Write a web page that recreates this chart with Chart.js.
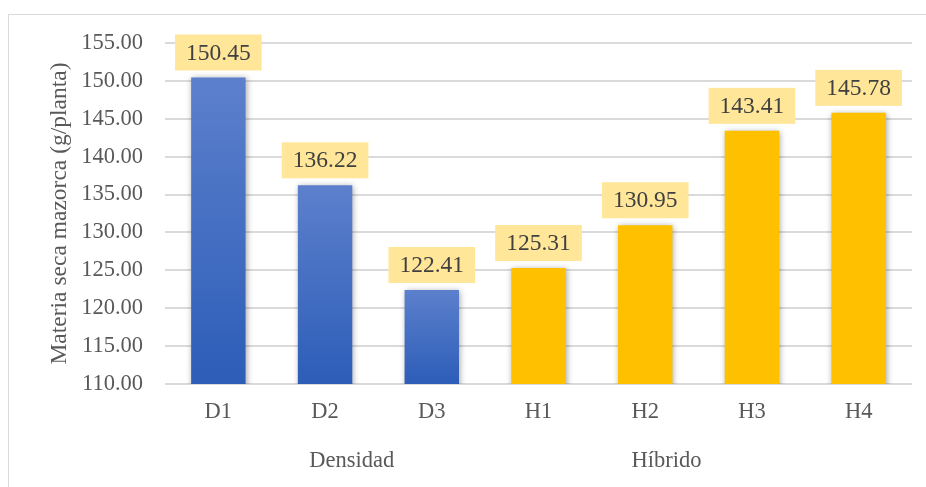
<!DOCTYPE html>
<html>
<head>
<meta charset="utf-8">
<script src="https://cdn.jsdelivr.net/npm/chart.js@4/dist/chart.umd.min.js"></script>
<style>
  html, body { margin: 0; padding: 0; background: #fff; }
  canvas { display: block; }
</style>
</head>
<body>
<canvas id="biomasa" width="926" height="487"></canvas>
<script>
// Datos: materia seca de mazorca por densidad e híbrido
const categorias = ['D1', 'D2', 'D3', 'H1', 'H2', 'H3', 'H4'];
const valores = [150.45, 136.22, 122.41, 125.31, 130.95, 143.41, 145.78];
const grupo = ['D', 'D', 'D', 'H', 'H', 'H', 'H'];
const grupos = ['Densidad', 'Híbrido'];
const ticksY = [110, 115, 120, 125, 130, 135, 140, 145, 150, 155];

const SERIF = "'Liberation Serif', 'Times New Roman', serif";
const DORADO = '#FFC000';

// Posición (en unidades de categoría) de las etiquetas de grupo
const posGrupos = [1.25, 4.2];

// Relleno con degradado para las barras azules
function colorBarra(c) {
    if (grupo[c.dataIndex] === 'H') return DORADO;
    const chart = c.chart;
    const area = chart.chartArea;
    if (!area) return '#4472C4';
    const yTop = chart.scales.y.getPixelForValue(valores[c.dataIndex]);
    const g = chart.ctx.createLinearGradient(0, yTop, 0, area.bottom);
    g.addColorStop(0, 'rgb(92,128,204)');
    g.addColorStop(1, 'rgb(45,93,184)');
    return g;
}

// Marco exterior del gráfico
const marco = {
    id: 'marco',
    beforeDraw(chart) {
        const ctx = chart.ctx;
        ctx.save();
        ctx.fillStyle = '#fff';
        ctx.fillRect(0, 0, chart.width, chart.height);
        ctx.strokeStyle = '#d9d9d9';
        ctx.lineWidth = 1;
        ctx.strokeRect(8.5, 14.5, chart.width + 10, chart.height + 10);
        ctx.restore();
    }
};

// Sombra suave de las barras
const sombra = {
    id: 'sombra',
    beforeDatasetsDraw(chart) {
        const ctx = chart.ctx;
        ctx.save();
        ctx.shadowColor = 'rgba(0,0,0,0.35)';
        ctx.shadowBlur = 6;
        ctx.shadowOffsetX = 1;
        ctx.shadowOffsetY = 1;
    },
    afterDatasetsDraw(chart) {
        chart.ctx.restore();
    }
};

// Etiquetas de valor con fondo amarillo
const etiquetas = {
    id: 'etiquetas',
    afterDatasetsDraw(chart) {
        const ctx = chart.ctx;
        const meta = chart.getDatasetMeta(0);
        ctx.save();
        ctx.font = '23.5px ' + SERIF;
        ctx.textAlign = 'center';
        ctx.textBaseline = 'middle';
        meta.data.forEach((bar, i) => {
            const txt = valores[i].toFixed(2);
            const w = ctx.measureText(txt).width + 22;
            const h = 36;
            const bottom = bar.y - 7;
            ctx.fillStyle = '#FFE699';
            ctx.fillRect(bar.x - w / 2, bottom - h, w, h);
            ctx.fillStyle = '#404040';
            ctx.fillText(txt, bar.x, bottom - h / 2 + 1);
        });
        ctx.restore();
    }
};

// Nombres de grupo bajo las categorías
const nombresGrupo = {
    id: 'nombresGrupo',
    afterDraw(chart) {
        const ctx = chart.ctx;
        const x = chart.scales.x;
        ctx.save();
        ctx.font = '22.5px ' + SERIF;
        ctx.fillStyle = '#595959';
        ctx.textAlign = 'center';
        ctx.textBaseline = 'middle';
        grupos.forEach((nombre, i) => {
            ctx.fillText(nombre, x.getPixelForValue(posGrupos[i]), 461);
        });
        ctx.restore();
    }
};

new Chart(document.getElementById('biomasa'), {
    type: 'bar',
    data: {
        labels: categorias,
        datasets: [{
            data: valores,
            backgroundColor: colorBarra,
            borderWidth: 0,
            barPercentage: 0.51,
            categoryPercentage: 1
        }]
    },
    options: {
        responsive: false,
        animation: false,
        devicePixelRatio: 1,
        layout: { padding: { left: 36, top: 43, right: 14, bottom: 0 } },
        plugins: {
            legend: { display: false },
            tooltip: { enabled: false }
        },
        scales: {
            x: {
                grid: { display: false, drawTicks: false },
                border: { display: false },
                ticks: {
                    color: '#595959',
                    padding: 15,
                    font: { family: SERIF, size: 22.5 }
                },
                afterFit(scale) { scale.height = 103; }
            },
            y: {
                min: 110,
                max: 155,
                afterBuildTicks(scale) {
                    scale.ticks = ticksY.map(v => ({ value: v }));
                },
                grid: { color: '#dadada', lineWidth: 2, drawTicks: false },
                border: { display: false },
                ticks: {
                    color: '#595959',
                    padding: 22,
                    font: { family: SERIF, size: 22.5 },
                    callback: v => v.toFixed(2)
                },
                title: {
                    display: true,
                    text: 'Materia seca mazorca (g/planta)',
                    color: '#595959',
                    padding: { top: 10, bottom: 0 },
                    font: { family: SERIF, size: 23.5, weight: 'normal' }
                },
                afterFit(scale) { scale.width = 129; }
            }
        }
    },
    plugins: [marco, sombra, etiquetas, nombresGrupo]
});
</script>
</body>
</html>
